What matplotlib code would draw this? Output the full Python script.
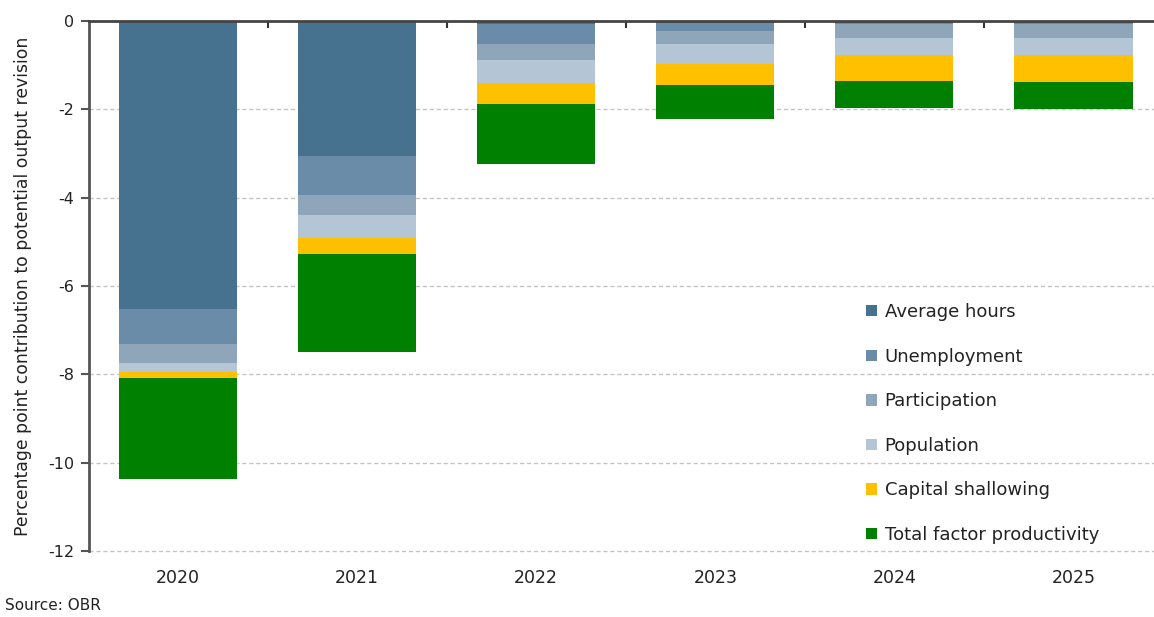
import matplotlib
matplotlib.use("Agg")
import matplotlib.pyplot as plt
import numpy as np

years = ["2020", "2021", "2022", "2023", "2024", "2025"]
series_names = ["Average hours", "Unemployment", "Participation", "Population",
                "Capital shallowing", "Total factor productivity"]
average_hours = [-6.53, -3.05, -0.06, -0.05, -0.04, -0.04]
unemployment = [-0.79, -0.89, -0.45, -0.17, -0.03, -0.03]
participation = [-0.42, -0.46, -0.37, -0.29, -0.32, -0.32]
population = [-0.21, -0.51, -0.53, -0.47, -0.38, -0.38]
capital_shallowing = [-0.13, -0.37, -0.47, -0.48, -0.59, -0.61]
tfp = [-2.30, -2.21, -1.36, -0.77, -0.62, -0.62]
colors = ["#46718F", "#6A8CA8", "#8EA5BA", "#B4C6D6", "#FFC000", "#008000"]
yticks = [0, -2, -4, -6, -8, -10, -12]

plt.rcParams['font.family'] = ['DejaVu Sans']
fig = plt.figure(figsize=(11.54, 6.17), dpi=100)
ax = fig.add_axes([88.5 / 1154, 1 - 551 / 617, (1154 - 88.5) / 1154, (551 - 21) / 617])

x = np.arange(len(years))
data = [average_hours, unemployment, participation, population, capital_shallowing, tfp]
bottom = np.zeros(len(years))
for name, vals, c in zip(series_names, data, colors):
    v = np.array(vals)
    ax.bar(x, v, 0.66, bottom=bottom, color=c, label=name, zorder=3, linewidth=0)
    bottom = bottom + v

ax.set_xlim(-0.5, 5.45)
ax.set_ylim(-12, 0)
ax.set_yticks(yticks)
ax.set_yticklabels([str(t) for t in yticks], fontsize=11.5, color="#222222")
ax.set_xticks(x)
ax.set_xticklabels(years, fontsize=12.5, color="#222222")
ax.set_xticks(x[:-1] + 0.5, minor=True)
ax.tick_params(axis='x', which='major', length=0, pad=13)
ax.tick_params(axis='x', which='minor', bottom=False, top=True, direction='in',
               length=5, width=1.5, color="#333333")
ax.tick_params(axis='y', which='major', length=6, width=1.5, color="#555555", pad=4)

for s in ['bottom', 'right']:
    ax.spines[s].set_visible(False)
ax.spines['top'].set_color("#444444")
ax.spines['left'].set_color("#555555")
for s in ['top', 'left']:
    ax.spines[s].set_linewidth(2)
    ax.spines[s].set_zorder(4)

for t in yticks[1:]:
    ax.axhline(t, color="#C4C4C4", linewidth=1, linestyle=(0, (3, 2)), zorder=1,
               clip_on=False)

ax.set_ylabel("Percentage point contribution to potential output revision",
              fontsize=12.4, color="#222222", labelpad=12)

leg = ax.legend(loc="lower left", bbox_to_anchor=(770 / 1065.5, 0.0), frameon=False,
                fontsize=13, handlelength=0.6, handleheight=0.6, handletextpad=0.45,
                labelspacing=1.47, borderaxespad=0)
for t in leg.get_texts():
    t.set_color("#222222")

fig.text(5 / 1154, 1 - 605 / 617, "Source: OBR", fontsize=11, color="#222222", va="center")

fig.savefig("out.png", dpi=100)
